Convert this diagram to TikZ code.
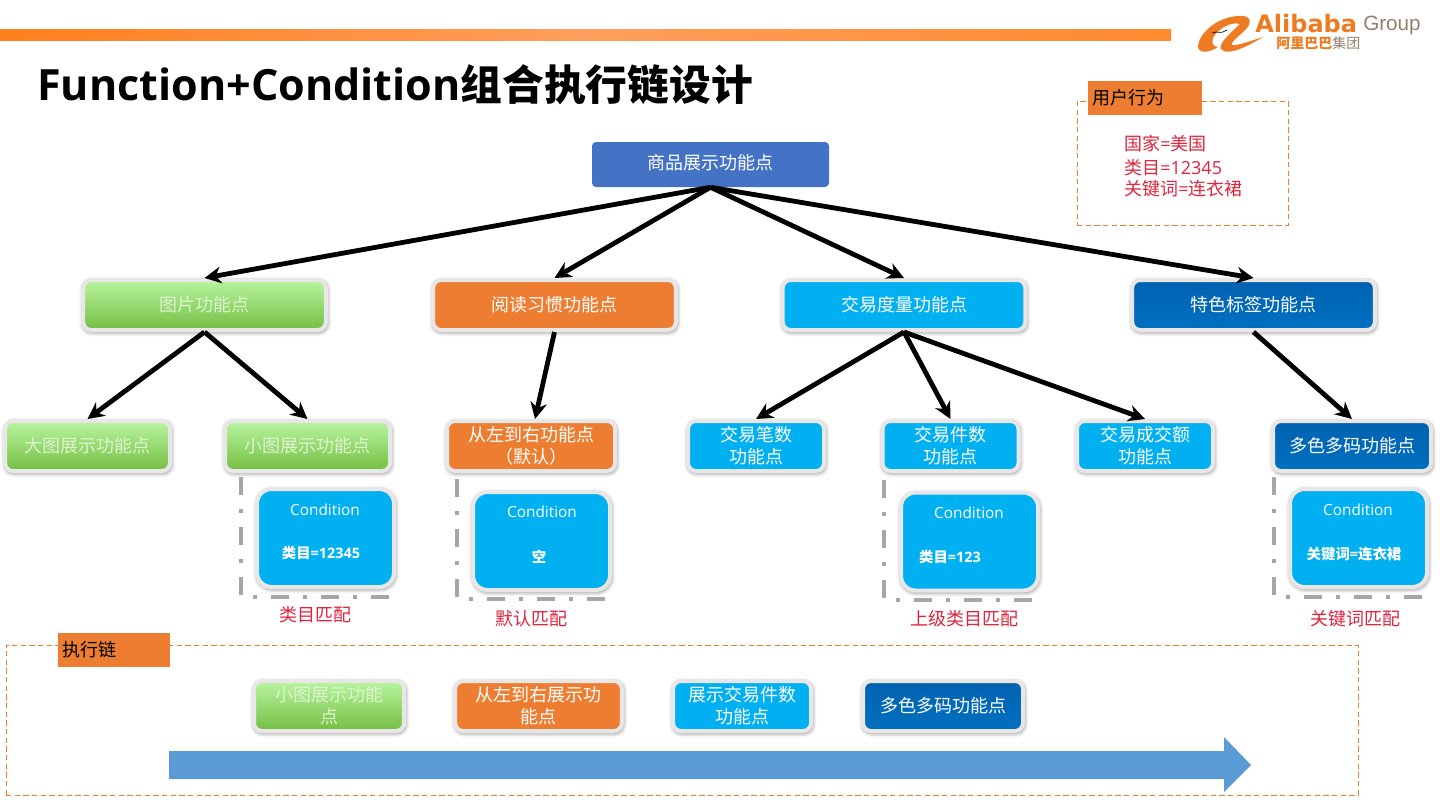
\documentclass[tikz,border=0pt]{standalone}
\usepackage{fontspec}
\setmainfont{Noto Sans CJK SC}
\newfontfamily\latinfont{Open Sans}
\newfontfamily\logofont{DejaVu Sans}
\newfontfamily\groupfont{Liberation Sans}
\newcommand{\lat}[1]{{\latinfont #1}}
\definecolor{fcorange}{HTML}{ED7D31}
\definecolor{fccyan}{HTML}{00B0F0}
\definecolor{fcblue}{HTML}{0070C0}
\definecolor{fcbluetop}{HTML}{0062B0}
\definecolor{fcroot}{HTML}{4472C4}
\definecolor{fcband}{HTML}{5B9BD5}
\definecolor{fcred}{HTML}{E0243C}
\definecolor{fcframe}{HTML}{E8E6E6}
\definecolor{fclogo}{HTML}{EE7B22}
\definecolor{fcgreentop}{HTML}{B8F5A0}
\definecolor{fcgreenbot}{HTML}{74BE42}
\definecolor{fcgreentext}{HTML}{DCF3CF}
\definecolor{barleft}{HTML}{FF7F1C}
\definecolor{barmid}{HTML}{FF9E5C}
\definecolor{barright}{HTML}{FF8A2E}
\usetikzlibrary{positioning,arrows.meta,calc,shadows.blur}

\begin{document}
\begin{tikzpicture}[
  x=0.75pt, y=-0.75pt,
  fnbox/.style={rectangle, draw=fcframe, line width=3pt, rounded corners=6pt, inner sep=0pt,
                text=white, align=center, font=\fontsize{13.5}{16.5}\selectfont,
                blur shadow={shadow xshift=0.6pt, shadow yshift=-1.2pt, shadow blur radius=3.5pt, shadow opacity=60}},
  lvltwo/.style={fnbox, minimum width=182pt, minimum height=37.5pt},
  lvlthree/.style={fnbox, minimum height=37.5pt},
  greenbox/.style={top color=fcgreentop, bottom color=fcgreenbot, text=fcgreentext},
  orangebox/.style={fill=fcorange},
  cyanbox/.style={fill=fccyan},
  bluebox/.style={top color=fcbluetop, bottom color=fcblue},
  condbox/.style={fnbox, fill=fccyan, rounded corners=11pt, minimum width=102.75pt, minimum height=73.5pt},
  condtext/.style={text=white, inner sep=0pt, font=\fontsize{11.5}{14}\selectfont},
  condvalue/.style={text=white, inner sep=0pt, font=\fontsize{10.8}{14}\selectfont\bfseries},
  matchtext/.style={text=fcred, inner sep=0pt, font=\fontsize{13.5}{16}\selectfont},
  usertext/.style={text=fcred, inner sep=0pt, anchor=west, font=\fontsize{13.5}{16}\selectfont},
  dashframe/.style={rectangle, draw=fcorange, line width=0.7pt, dash pattern=on 4pt off 2.5pt, inner sep=0pt},
  tagbox/.style={rectangle, fill=fcorange, text=black, text width=#1, align=left, minimum height=25.5pt,
                 inner xsep=3.5pt, inner ysep=0pt, font=\fontsize{13.5}{16}\selectfont},
  bracket/.style={draw=black!35, line width=2.6pt, dash pattern=on 13.5pt off 10.5pt on 3pt off 10.5pt},
  arrow/.style={-{Stealth[length=12.5pt,width=12.5pt]}, line width=3.6pt, black},
]
\useasboundingbox (0,0) rectangle (1440,810);

% Header bar
\shade[left color=barleft, right color=barright, middle color=barmid] (0,29) rectangle (1171,40);
\node[anchor=west, inner sep=0pt, font=\fontsize{31.3}{34}\selectfont\bfseries] (title) at (37,85)
  {{\latinfont\fontsize{32.3}{34}\selectfont Function+Condition}组合执行链设计};

% Logo
\fill[fclogo] (1198,46) .. controls (1200,30) and (1222,15) .. (1242,16)
  .. controls (1249,16) and (1251,20) .. (1249,25) .. controls (1245,32) and (1235,38) .. (1232,43)
  .. controls (1230,47) and (1236,46) .. (1263,37) .. controls (1240,51) and (1226,55) .. (1221,49)
  .. controls (1218,43) and (1232,32) .. (1240,24) .. controls (1230,21) and (1217,30) .. (1213,38)
  .. controls (1211,44) and (1214,47) .. (1218,47) .. controls (1209,53) and (1198,54) .. (1198,46) -- cycle;
\draw[black, line width=0.5pt] (1212,33) -- (1216,32) .. controls (1222,33) and (1224,32) .. (1227,30);
\node[anchor=west, inner sep=0pt, text=fclogo, font=\logofont\fontsize{18}{20}\selectfont\bfseries] (alibaba) at (1255,24) {Alibaba};
\node[anchor=west, inner sep=0pt, text=gray!85!orange, font=\groupfont\fontsize{15.5}{18}\selectfont] (group) at (1363,25) {Group};
\node[anchor=west, inner sep=0pt, text=fclogo, font=\fontsize{10.5}{12}\selectfont] (logozh) at (1276,43)
  {\textbf{阿里巴巴}{\color{gray!85!orange}集团}};

% User behaviour
\node[dashframe, minimum width=158.25pt, minimum height=93pt] (user) at (1182.5,163) {};
\node[tagbox=78.5pt] (usertag) at (1145,98) {用户行为};
\node[usertext] (country) at (1124,144) {国家\lat{=}美国};
\node[usertext] (category) at (1124,168) {类目\lat{=12345}};
\node[usertext] (keyword) at (1124,189) {关键词\lat{=}连衣裙};

% Function points
\node[rectangle, fill=fcroot, rounded corners=3pt, minimum width=177.75pt, minimum height=33.75pt,
      text=white, text depth=4.5pt, font=\fontsize{13.5}{16}\selectfont] (root) at (710.5,164.5) {商品展示功能点};

\node[lvltwo, greenbox] (picture) at (204.5,305) {图片功能点};
\node[lvltwo, orangebox] (reading) at (554.5,305) {阅读习惯功能点};
\node[lvltwo, cyanbox] (trade) at (904,305) {交易度量功能点};
\node[lvltwo, bluebox] (feature) at (1253.5,305) {特色标签功能点};

\node[lvlthree, greenbox, minimum width=123.75pt] (bigpic) at (87.5,446) {大图展示功能点};
\node[lvlthree, greenbox, minimum width=123.75pt] (smallpic) at (307.5,446) {小图展示功能点};
\node[lvlthree, orangebox, minimum width=126pt] (ltr) at (531,446) {从左到右功能点\\（默认）};
\node[lvlthree, cyanbox, minimum width=102pt] (tradecount) at (756,446) {交易笔数\\功能点};
\node[lvlthree, cyanbox, minimum width=102pt] (tradeitems) at (950.5,446) {交易件数\\功能点};
\node[lvlthree, cyanbox, minimum width=102pt] (tradeamount) at (1145,446) {交易成交额\\功能点};
\node[lvlthree, bluebox, minimum width=118.5pt] (multicolor) at (1352,446) {多色多码功能点};

% Conditions
\draw[bracket] (241,477) -- (241,597) -- (392,597);
\draw[bracket] (457,479) -- (457,599) -- (607,599);
\draw[bracket] (884,480) -- (884,600) -- (1034,600);
\draw[bracket] (1274,477) -- (1274,597) -- (1423,597);

\node[condbox] (condone) at (325.5,538) {};
\node[condbox] (condtwo) at (541.5,541) {};
\node[condbox] (condthree) at (969.5,541.5) {};
\node[condbox] (condfour) at (1358.5,538) {};

\node[condtext] (condonetitle) at (325,510) {\lat{Condition}};
\node[condvalue] (condonevalue) at (321,553) {类目\lat{=12345}};
\node[condtext] (condtwotitle) at (542,512) {\lat{Condition}};
\node[condvalue] (condtwovalue) at (539,557) {空};
\node[condtext] (condthreetitle) at (969,513) {\lat{Condition}};
\node[condvalue] (condthreevalue) at (950,557) {类目\lat{=123}};
\node[condtext] (condfourtitle) at (1358,510) {\lat{Condition}};
\node[condvalue] (condfourvalue) at (1354,554) {关键词\lat{=}连衣裙};

\node[matchtext] (matchone) at (315,615) {类目匹配};
\node[matchtext] (matchtwo) at (531,619) {默认匹配};
\node[matchtext] (matchthree) at (964,619) {上级类目匹配};
\node[matchtext] (matchfour) at (1355,619) {关键词匹配};

% Execution chain
\node[dashframe, minimum width=1014pt, minimum height=112.5pt] (chain) at (682,720) {};
\node[tagbox=77pt] (chaintag) at (114,650) {执行链};
\node[lvlthree, greenbox, minimum width=112.5pt] (chainone) at (329,706) {小图展示功能\\点};
\node[lvlthree, orangebox, minimum width=125pt] (chaintwo) at (538.5,706) {从左到右展示功\\能点};
\node[lvlthree, cyanbox, minimum width=103.5pt] (chainthree) at (742,706) {展示交易件数\\功能点};
\node[lvlthree, bluebox, minimum width=120pt] (chainfour) at (943,706) {多色多码功能点};
\fill[fcband] (169,751) -- (1224,751) -- (1224,737) -- (1251,765) -- (1224,792) -- (1224,779) -- (169,779) -- cycle;

% Arrows
\draw[arrow] (root.south) -- (picture.north);
\draw[arrow] (root.south) -- (reading.north);
\draw[arrow] (root.south) -- (trade.north);
\draw[arrow] (root.south) -- (feature.north);
\draw[arrow] (picture.south) -- (bigpic.north);
\draw[arrow] (picture.south) -- (smallpic.north);
\draw[arrow] (reading.south) -- ([xshift=3pt]ltr.north);
\draw[arrow] (trade.south) -- (tradecount.north);
\draw[arrow] (trade.south) -- (tradeitems.north);
\draw[arrow] (trade.south) -- (tradeamount.north);
\draw[arrow] (feature.south) -- (multicolor.north);

\end{tikzpicture}
\end{document}
